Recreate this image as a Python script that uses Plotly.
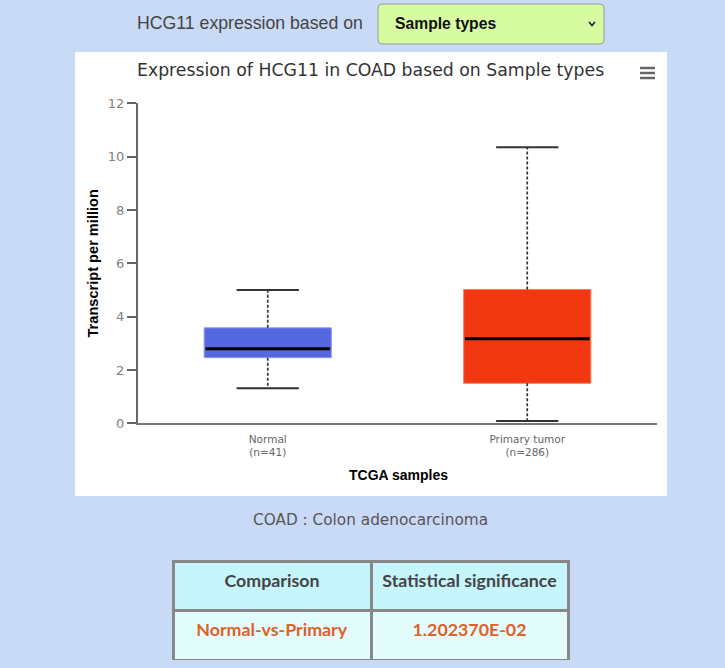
import plotly.graph_objects as go

# ---------------- data ----------------
categories = ["Normal", "Primary tumor"]
n_samples = [41, 286]
lower_whisker = [1.31, 0.09]
q1 = [2.46, 1.50]
median = [2.80, 3.17]
q3 = [3.58, 5.02]
upper_whisker = [5.00, 10.35]

comparison = ["Normal-vs-Primary"]
significance = ["1.202370E-02"]

gene = "HCG11"
cancer = "COAD"
cancer_name = "Colon adenocarcinoma"
grouping = "Sample types"

# ---------------- geometry helpers (page is 725 x 668) ----------------
W, H = 725, 668
PAGE_BG = "#c9daf6"


def px(x):
    return x / W


def py(y):
    return 1 - y / H


box_colors = ["#5468e0", "#f23810"]
box_edges = ["#8d9af0", "#f77a5c"]
BOX_W = 0.49
CAP_W = 0.24

fig = go.Figure()

xs = list(range(len(categories)))

# boxes (Q1..Q3)
fig.add_trace(go.Bar(
    x=xs,
    y=[b - a for a, b in zip(q1, q3)],
    base=q1,
    width=BOX_W,
    marker=dict(color=box_colors, line=dict(color=box_edges, width=1)),
    hoverinfo="skip",
    showlegend=False,
))

for i in xs:
    # dashed whiskers
    fig.add_trace(go.Scatter(
        x=[i, i, None, i, i],
        y=[q3[i], upper_whisker[i], None, q1[i], lower_whisker[i]],
        mode="lines",
        line=dict(color="#333333", width=1.7, dash="3px,2px"),
        hoverinfo="skip", showlegend=False,
    ))
    # caps
    fig.add_trace(go.Scatter(
        x=[i - CAP_W / 2, i + CAP_W / 2, None, i - CAP_W / 2, i + CAP_W / 2],
        y=[upper_whisker[i], upper_whisker[i], None, lower_whisker[i], lower_whisker[i]],
        mode="lines",
        line=dict(color="#333333", width=2),
        hoverinfo="skip", showlegend=False,
    ))
    # median
    fig.add_trace(go.Scatter(
        x=[i - BOX_W / 2 + 0.005, i + BOX_W / 2 - 0.005],
        y=[median[i], median[i]],
        mode="lines",
        line=dict(color="#000000", width=3),
        hoverinfo="skip", showlegend=False,
    ))

# statistics table
fig.add_trace(go.Table(
    domain=dict(x=[px(173), px(568)], y=[py(661), py(561)]),
    columnwidth=[198, 197],
    header=dict(
        values=["<b>Comparison</b>", "<b>Statistical significance</b>"],
        fill_color="#c7f5fc",
        line=dict(color="#888888", width=3),
        height=49,
        align="center",
        font=dict(family="Lato, Open Sans, sans-serif", size=17.8, color="#444444"),
    ),
    cells=dict(
        values=[[f"<b>{c}</b>" for c in comparison], [f"<b>{s}</b>" for s in significance]],
        fill_color="#e3fdfd",
        line=dict(color="#888888", width=3),
        height=50,
        align="center",
        font=dict(family="Lato, Open Sans, sans-serif", size=17.8, color="#e0602a"),
    ),
))

tick_text = [f"{c}<br>(n={n})" for c, n in zip(categories, n_samples)]

fig.update_layout(
    width=W, height=H,
    autosize=False,
    margin=dict(l=0, r=0, t=0, b=0, pad=0, autoexpand=False),
    paper_bgcolor=PAGE_BG,
    plot_bgcolor="rgba(0,0,0,0)",
    barmode="overlay",
    showlegend=False,
    xaxis=dict(
        domain=[px(138), px(657)],
        range=[-0.5, 1.5],
        tickvals=xs,
        ticktext=tick_text,
        tickfont=dict(family="DejaVu Sans, sans-serif", size=10.5, color="#666666"),
        ticklabelstandoff=5,
        showline=True, linecolor="#777777", linewidth=1.5,
        ticks="", showgrid=False, zeroline=False,
        automargin=False,
        fixedrange=True,
    ),
    yaxis=dict(
        domain=[py(423.3), py(103.3)],
        range=[0, 12],
        dtick=2,
        tickfont=dict(family="DejaVu Sans, sans-serif", size=13, color="#808080"),
        showline=True, linecolor="#666666", linewidth=2,
        ticks="outside", ticklen=9, tickcolor="#666666", tickwidth=1.5,
        showgrid=False, zeroline=False,
        automargin=False,
        title=dict(text="<b>Transcript per million</b>",
                   font=dict(family="Liberation Sans, Arial, sans-serif", size=14.6, color="#000000"),
                   standoff=6),
        fixedrange=True,
    ),
)

shapes = []
# white chart panel
shapes.append(dict(type="rect", xref="paper", yref="paper",
                   x0=px(75), x1=px(667), y0=py(496), y1=py(52),
                   fillcolor="#ffffff", line=dict(width=0), layer="below"))


# dropdown box (rounded rectangle)
def rounded_rect(x0, y0, x1, y1, r):
    pts = [
        f"M {px(x0 + r)},{py(y0)}",
        f"L {px(x1 - r)},{py(y0)}",
        f"Q {px(x1)},{py(y0)} {px(x1)},{py(y0 + r)}",
        f"L {px(x1)},{py(y1 - r)}",
        f"Q {px(x1)},{py(y1)} {px(x1 - r)},{py(y1)}",
        f"L {px(x0 + r)},{py(y1)}",
        f"Q {px(x0)},{py(y1)} {px(x0)},{py(y1 - r)}",
        f"L {px(x0)},{py(y0 + r)}",
        f"Q {px(x0)},{py(y0)} {px(x0 + r)},{py(y0)} Z",
    ]
    return " ".join(pts)


shapes.append(dict(type="path", xref="paper", yref="paper",
                   path=rounded_rect(378, 4, 604, 44, 4),
                   fillcolor="#d6fba1", line=dict(color="#9a9a9a", width=1)))
# chevron
shapes.append(dict(type="path", xref="paper", yref="paper",
                   path=f"M {px(589)},{py(22)} L {px(592)},{py(25.5)} L {px(595)},{py(22)}",
                   line=dict(color="#222222", width=1.6)))
# hamburger menu icon
for yy in (68, 73, 78):
    shapes.append(dict(type="line", xref="paper", yref="paper",
                       x0=px(640), x1=px(655), y0=py(yy), y1=py(yy),
                       line=dict(color="#666666", width=2.5)))

fig.update_layout(shapes=shapes)

annotations = [
    dict(text=f"{gene} expression based on", x=px(250), y=py(23),
         font=dict(family="Liberation Sans, Arial, sans-serif", size=17.7, color="#444444")),
    dict(text=f"<b>{grouping}</b>", x=px(393), y=py(24), xanchor="left",
         font=dict(family="Liberation Sans, Arial, sans-serif", size=15.7, color="#111111")),
    dict(text=f"Expression of {gene} in {cancer} based on {grouping}", x=px(371), y=py(70),
         font=dict(family="DejaVu Sans, sans-serif", size=17.3, color="#333333")),
    dict(text="<b>TCGA samples</b>", x=px(398), y=py(475),
         font=dict(family="Liberation Sans, Arial, sans-serif", size=14, color="#000000")),
    dict(text=f"{cancer} : {cancer_name}", x=px(371), y=py(520),
         font=dict(family="DejaVu Sans, sans-serif", size=15.3, color="#555555")),
]
for a in annotations:
    a.update(xref="paper", yref="paper", showarrow=False,
             xanchor=a.get("xanchor", "center"), yanchor="middle")
fig.update_layout(annotations=annotations)

fig.write_html(
    "out.html",
    config={"displayModeBar": False, "responsive": False},
    post_script=(
        "document.body.style.margin='0';"
        "document.body.style.padding='0';"
        f"document.body.style.background='{PAGE_BG}';"
        "document.documentElement.style.overflow='hidden';"
    ),
)
